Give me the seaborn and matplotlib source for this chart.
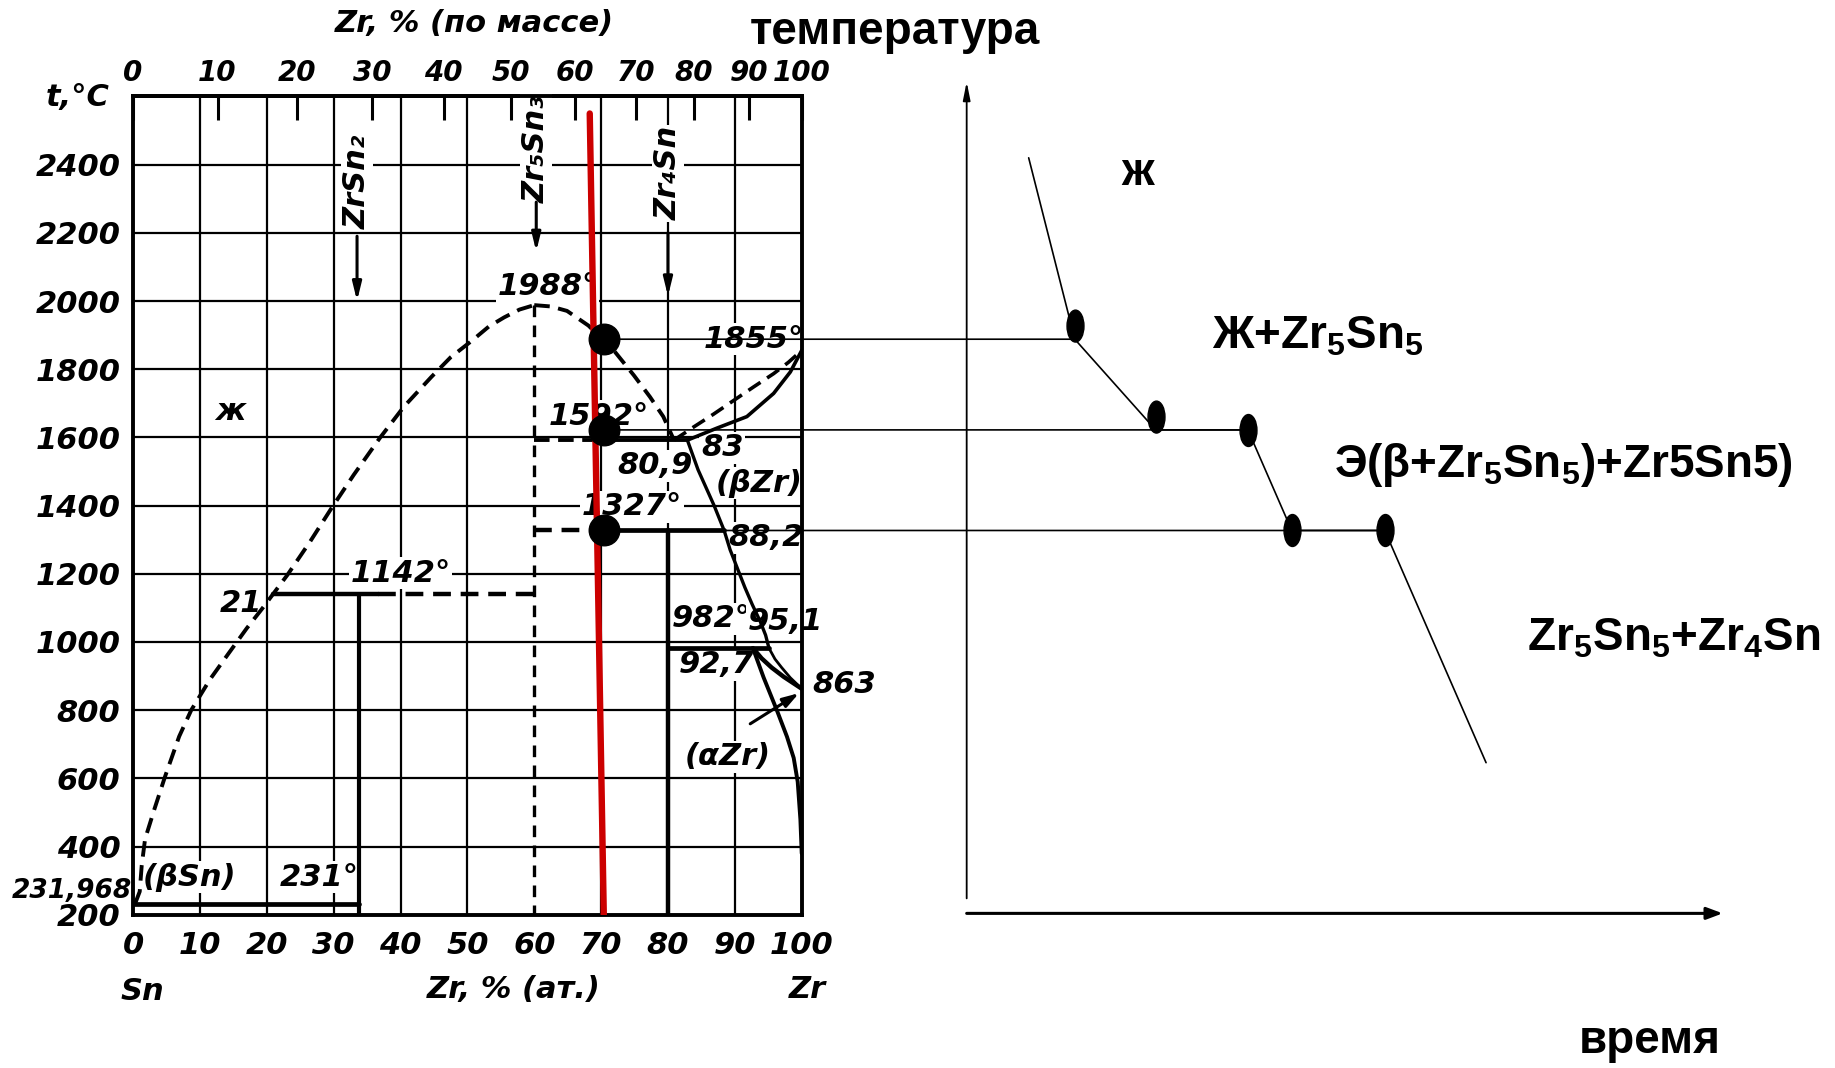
import numpy as np
import matplotlib
matplotlib.use("Agg")
import matplotlib.pyplot as plt
import seaborn as sns
from matplotlib.markers import MarkerStyle
from matplotlib.transforms import Affine2D
from matplotlib.patches import ConnectionPatch

# ---------------- data ----------------
at_ticks = [0, 10, 20, 30, 40, 50, 60, 70, 80, 90, 100]
mass_ticks = [0, 10, 20, 30, 40, 50, 60, 70, 80, 90, 100]
temp_ticks = [200, 400, 600, 800, 1000, 1200, 1400, 1600, 1800, 2000, 2200, 2400]
t_min, t_max = 200, 2600

M_ZR, M_SN = 91.224, 118.71

# liquidus from the Sn side up to the Zr5Sn3 maximum
liq_sn_x = [0.3, 1.0, 1.3, 1.8, 3.2, 4.8, 6.9, 8.7, 11.5, 14.2, 17.0, 19.4, 21.0,
            23.1, 26.5, 29.6, 33.0, 36.9, 40.5, 44.6, 47.5, 50.7, 53.2, 55.5, 57.8, 60.0]
liq_sn_t = [232, 268, 345, 422, 510, 606, 723, 800, 890, 964, 1040, 1100, 1142,
            1197, 1295, 1390, 1490, 1598, 1690, 1777, 1835, 1884, 1925, 1952, 1975, 1988]
# liquidus from the maximum down to the eutectic
liq_zr_x = [60.0, 62.5, 64.9, 68.1, 71.9, 74.9, 77.3, 79.3, 80.9]
liq_zr_t = [1988, 1984, 1971, 1928, 1855, 1782, 1719, 1661, 1592]
# liquidus of (βZr)
liq_bzr_x = [80.9, 83.8, 86.8, 89.8, 92.8, 95.8, 98.0, 100.0]
liq_bzr_t = [1592, 1630, 1668, 1708, 1748, 1787, 1820, 1855]
# solidus of (βZr)
sol_bzr_x = [82.9, 87.3, 91.8, 95.8, 98.3, 100.0]
sol_bzr_t = [1592, 1627, 1661, 1729, 1792, 1855]
# solvus of (βZr)
solv_bzr_x = [82.9, 84.5, 86.9, 88.4, 89.3, 90.3, 91.5, 92.6, 93.8, 94.6, 95.1]
solv_bzr_t = [1592, 1505, 1400, 1327, 1270, 1220, 1160, 1110, 1060, 1020, 982]
# (βZr) / (αZr+βZr) boundary
beta_lo_x = [95.1, 96.0, 97.0, 98.3, 100.0]
beta_lo_t = [982, 950, 925, 895, 863]
# (αZr) / (αZr+βZr) boundary
alpha_hi_x = [92.7, 94.0, 95.5, 97.3, 100.0]
alpha_hi_t = [982, 952, 925, 898, 863]
# solvus of (αZr)
alpha_solv_x = [92.7, 94.3, 96.3, 97.8, 98.8, 99.4, 99.8, 100.0]
alpha_solv_t = [982, 896, 799, 722, 660, 590, 480, 380]

# invariant horizontals and compound lines
t_1142, x_1142_solid, x_1142_dash = 1142, [21.0, 36.6], [36.6, 60.0]
t_eut, x_eut_dash, x_eut_solid = 1592, [60.0, 69.0], [69.0, 82.9]
t_1327, x_1327_dash, x_1327_solid = 1327, [60.0, 69.0], [69.0, 88.4]
t_982, x_982 = 982, [80.0, 95.1]
t_231, x_231 = 231, [0.0, 33.8]
x_zrsn2, x_zr5sn3, x_zr4sn = 33.8, 60.0, 80.0
t_peak = 1988

# alloy section and its arrest points
sect_x = [68.3, 70.4]
sect_t = [2550, 200]
dot_x = 70.4
arrest_t = [1888, 1622, 1327]

# cooling curve (time in arbitrary units, temperature in °C)
cool_time = [8.2, 14.3, 25.0, 37.2, 43.0, 55.3, 68.7]
cool_temp = [2420, 1888, 1622, 1622, 1327, 1327, 646]
arrest_end_idx = [1, 3, 5]

diagram_labels = [
    ("1988°", 62.0, 2042), ("1855°", 92.8, 1888), ("1592°", 69.7, 1662),
    ("83", 88.1, 1569), ("80,9", 78.1, 1517), ("(βZr)", 93.6, 1466),
    ("1327°", 74.6, 1397), ("88,2", 94.6, 1305), ("1142°", 40.0, 1202),
    ("21", 16.2, 1113), ("982°", 86.5, 1068), ("95,1", 97.6, 1061),
    ("92,7", 87.2, 934), ("(αZr)", 89.0, 663), ("(βSn)", 8.5, 310),
    ("231°", 27.8, 310), ("ж", 14.6, 1675),
]
compound_labels = [("ZrSn₂", 33.5, 2350), ("Zr₅Sn₃", 60.3, 2445), ("Zr₄Sn", 80.0, 2375)]
compound_arrows = [(33.5, 2190, 2000), (60.3, 2290, 2145), (80.0, 2200, 2014)]


def at_to_mass(a):
    a = np.asarray(a, dtype=float)
    return a * M_ZR / (a * M_ZR + (100.0 - a) * M_SN) * 100.0


def mass_to_at(w):
    w = np.asarray(w, dtype=float)
    return (w / M_ZR) / (w / M_ZR + (100.0 - w) / M_SN) * 100.0


# ---------------- style ----------------
sns.set_theme(style="white")
plt.rcParams["font.family"] = ["DejaVu Sans"]
plt.rcParams["axes.edgecolor"] = "black"
plt.rcParams["text.color"] = "black"
plt.rcParams["xtick.color"] = "black"
plt.rcParams["ytick.color"] = "black"
plt.rcParams["axes.labelcolor"] = "black"
plt.rcParams["mathtext.fontset"] = "custom"
plt.rcParams["mathtext.rm"] = "Liberation Sans:bold"
plt.rcParams["mathtext.it"] = "Liberation Sans:bold:italic"
plt.rcParams["mathtext.bf"] = "Liberation Sans:bold"

hand = dict(family="DejaVu Sans", weight="bold", style="italic", size=22, color="black")
hand_top = dict(hand, size=20)
hand_small = dict(hand, size=19)
plain = dict(family="Liberation Sans", weight="bold", size=33, color="black")
white_box = dict(facecolor="white", edgecolor="none", pad=1.0)

fig = plt.figure(figsize=(18.35, 10.68), dpi=100)
fig.patch.set_facecolor("white")
ax1 = fig.add_axes([0.0725, 0.1435, 0.3644, 0.7662])
ax2 = fig.add_axes([0.5268, 0.1435, 0.4120, 0.7662], sharey=ax1)


def trace(ax, x, y, lw=2.2, ls="-", color="black", z=3):
    sns.lineplot(x=list(x), y=list(y), sort=False, estimator=None, ax=ax,
                 color=color, linewidth=lw, linestyle=ls, zorder=z)


dash = (0, (4.0, 2.2))

# ---------------- phase diagram ----------------
for v in at_ticks[1:-1]:
    if v != x_zr5sn3:
        ax1.axvline(v, color="black", lw=1.6, zorder=1)
for t in temp_ticks[1:]:
    ax1.axhline(t, color="black", lw=1.6, zorder=1)

trace(ax1, liq_sn_x, liq_sn_t, lw=2.8, ls=dash)
trace(ax1, liq_zr_x, liq_zr_t, lw=2.8, ls=dash)
trace(ax1, liq_bzr_x, liq_bzr_t, lw=2.6, ls=dash)
trace(ax1, sol_bzr_x, sol_bzr_t, lw=2.6)
trace(ax1, solv_bzr_x, solv_bzr_t, lw=2.4)
trace(ax1, beta_lo_x, beta_lo_t, lw=2.0)
trace(ax1, alpha_hi_x, alpha_hi_t, lw=3.2)
trace(ax1, alpha_solv_x, alpha_solv_t, lw=2.8)

trace(ax1, x_1142_solid, [t_1142] * 2, lw=3.2)
trace(ax1, x_1142_dash, [t_1142] * 2, lw=3.2, ls=dash)
trace(ax1, x_eut_dash, [t_eut] * 2, lw=2.8, ls=dash)
trace(ax1, x_eut_solid, [t_eut] * 2, lw=2.8)
trace(ax1, x_1327_dash, [t_1327] * 2, lw=3.2, ls=dash)
trace(ax1, x_1327_solid, [t_1327] * 2, lw=3.4)
trace(ax1, x_982, [t_982] * 2, lw=3.4)
trace(ax1, x_231, [t_231] * 2, lw=3.4)
trace(ax1, [x_zrsn2] * 2, [t_1142, t_min], lw=3.0)
trace(ax1, [x_zr4sn] * 2, [t_1327, t_min], lw=3.2)
trace(ax1, [x_zr5sn3] * 2, [t_peak, t_min], lw=2.4, ls=(0, (3.5, 2.5)))

for txt, x, t in diagram_labels:
    ax1.text(x, t, txt, ha="center", va="center", zorder=2, bbox=white_box, **hand)
ax1.text(106.3, 876, "863", ha="center", va="center", clip_on=False, **hand)
for txt, x, t in compound_labels:
    ax1.text(x, t, txt, ha="center", va="center", rotation=90, zorder=2,
             bbox=white_box, **hand)
for x, t0, t1 in compound_arrows:
    ax1.annotate("", xy=(x, t1), xytext=(x, t0),
                 arrowprops=dict(arrowstyle="-|>,head_length=0.9,head_width=0.22",
                                 lw=2.2, color="black", shrinkA=0, shrinkB=0),
                 zorder=3)
ax1.annotate("", xy=(99.6, 850), xytext=(92.3, 760),
             arrowprops=dict(arrowstyle="-|>,head_length=0.8,head_width=0.25",
                             lw=2.2, color="black", shrinkA=0, shrinkB=0), zorder=3)

# alloy section
trace(ax1, sect_x, sect_t, lw=4.6, color="#cc0000", z=4)
ax1.plot([dot_x] * len(arrest_t), arrest_t, ls="none", marker="o", ms=22,
         color="black", zorder=5, clip_on=False)

ax1.set_xlim(0, 100)
ax1.set_ylim(t_min, t_max)
ax1.set_xlabel("")
ax1.set_ylabel("")
ax1.set_xticks(at_ticks, labels=[str(v) for v in at_ticks], **hand)
ax1.set_yticks(temp_ticks, labels=[str(v) for v in temp_ticks], **hand)
ax1.tick_params(axis="x", length=0, pad=12)
ax1.tick_params(axis="y", length=0, pad=9)
for s in ax1.spines.values():
    s.set_linewidth(2.8)
    s.set_color("black")
    s.set_visible(True)

secax = ax1.secondary_xaxis("top", functions=(at_to_mass, mass_to_at))
secax.set_xticks(mass_ticks, labels=[str(v) for v in mass_ticks], **hand_top)
secax.tick_params(axis="x", direction="in", length=17, width=2.2, pad=7, color="black")
secax.spines["top"].set_linewidth(2.8)

fig.text(0.2583, 0.978, "Zr, % (по массе)", ha="center", va="center", **hand)
fig.text(0.0421, 0.909, "t,°C", ha="center", va="center", **hand)
fig.text(0.0720, 0.1654, "231,968", ha="right", va="center", **hand_small)
fig.text(0.0778, 0.0712, "Sn", ha="center", va="center", **hand)
fig.text(0.2800, 0.0734, "Zr, % (ат.)", ha="center", va="center", **hand)
fig.text(0.4400, 0.0734, "Zr", ha="center", va="center", **hand)

# ---------------- cooling curve ----------------
ax2.axis("off")
ax2.set_xlim(0, 100)
ax2.annotate("", xy=(0, 2643), xytext=(0, 248), annotation_clip=False,
             arrowprops=dict(arrowstyle="-|>,head_length=0.9,head_width=0.18",
                             lw=1.3, color="black", shrinkA=0, shrinkB=0))
ax2.annotate("", xy=(100, 204), xytext=(0, 204), annotation_clip=False,
             arrowprops=dict(arrowstyle="-|>,head_length=0.8,head_width=0.3",
                             lw=2.2, color="black", shrinkA=0, shrinkB=0))

trace(ax2, cool_time, cool_temp, lw=1.2)
ell = MarkerStyle("o", transform=Affine2D().scale(0.53, 1.0))
ell_up = MarkerStyle("o", transform=Affine2D().scale(0.53, 1.0).translate(0, 0.42))
ax2.plot(cool_time[1:3], cool_temp[1:3], ls="none", marker=ell_up, ms=23,
         color="black", zorder=5, clip_on=False)
ax2.plot(cool_time[3:6], cool_temp[3:6], ls="none", marker=ell, ms=23,
         color="black", zorder=5, clip_on=False)

for t_arr, idx in zip(arrest_t, arrest_end_idx):
    con = ConnectionPatch(xyA=(dot_x, t_arr), coordsA="data", axesA=ax1,
                          xyB=(cool_time[idx], t_arr), coordsB="data", axesB=ax2,
                          color="black", lw=1.2)
    fig.add_artist(con)

ax2.text(22.6, 2375, "ж", ha="center", va="center", **plain)
ax2.text(32.4, 1862, "Ж+Zr$_5$Sn$_5$", ha="left", va="baseline", **plain)
ax2.text(48.6, 1485, "Э(β+Zr$_5$Sn$_5$)+Zr5Sn5)", ha="left", va="baseline", **plain)
ax2.text(74.1, 974, "Zr$_5$Sn$_5$+Zr$_4$Sn", ha="left", va="baseline",
         clip_on=False, **plain)
fig.text(0.4879, 0.9704, "температура", ha="center", va="center", **plain)
fig.text(0.8992, 0.0252, "время", ha="center", va="center", **plain)

ax1.set_ylim(t_min, t_max)
fig.savefig("out.png", dpi=100, facecolor="white")
